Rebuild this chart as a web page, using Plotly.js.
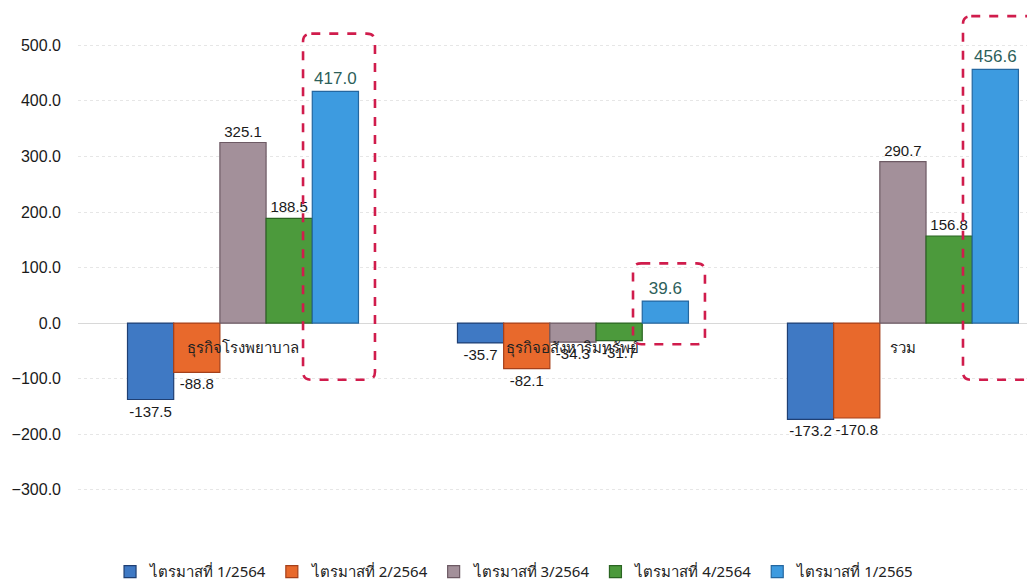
<!DOCTYPE html>
<html><head><meta charset="utf-8">
<script src="https://cdn.plot.ly/plotly-3.0.1.min.js"></script>
<style>html,body{margin:0;padding:0;background:#fff;}#chart{width:1027px;height:580px;}</style>
</head><body><div id="chart"></div>
<script>
const categories = ["ธุรกิจโรงพยาบาล", "ธุรกิจอสังหาริมทรัพย์", "รวม"];
const seriesNames = ["ไตรมาสที่ 1/2564", "ไตรมาสที่ 2/2564", "ไตรมาสที่ 3/2564", "ไตรมาสที่ 4/2564", "ไตรมาสที่ 1/2565"];
const q1_2564 = [-137.5, -35.7, -173.2];
const q2_2564 = [-88.8, -82.1, -170.8];
const q3_2564 = [325.1, -34.3, 290.7];
const q4_2564 = [188.5, -31.7, 156.8];
const q1_2565 = [417.0, 39.6, 456.6];
const yTicks = [-300, -200, -100, 0, 100, 200, 300, 400, 500];

const allSeries = [q1_2564, q2_2564, q3_2564, q4_2564, q1_2565];
const fills = ["#3f79c4", "#e8692c", "#a3909a", "#4c9a3c", "#3d9be0"];
const borders = ["#1f3f73", "#a5401a", "#6d5a64", "#2b6522", "#2467a0"];

const yMin = -340, yMax = 560;
const traces = allSeries.map((vals, i) => ({
  type: "bar",
  name: seriesNames[i],
  x: categories,
  y: vals,
  text: vals.map(v => v.toFixed(1)),
  textposition: "outside",
  cliponaxis: false,
  textfont: i === 4 ? {family: "Liberation Sans, Arial", size: 17, color: "#2d5f5a"} : {family: "Liberation Sans, Arial", size: 15, color: "#1a1a1a"},
  marker: {color: fills[i], line: {color: borders[i], width: 1.2}},
  hoverinfo: "x+y"
}));

// dashed rounded boxes around the last series bars
function roundRect(x0, x1, y0, y1, rx, ry) {
  return `M${x0+rx},${y1} L${x1-rx},${y1} Q${x1},${y1} ${x1},${y1-ry} L${x1},${y0+ry} Q${x1},${y0} ${x1-rx},${y0} L${x0+rx},${y0} Q${x0},${y0} ${x0},${y0+ry} L${x0},${y1-ry} Q${x0},${y1} ${x0+rx},${y1} Z`;
}
const shapes = categories.map((c, i) => {
  const v = q1_2565[i];
  const top = v + (i === 1 ? 68 : (i === 0 ? 104 : 96));
  const bottom = i === 1 ? -38 : -102;
  return {
    type: "path", xref: "x", yref: "y",
    path: roundRect(i + 0.182, i + 0.40, bottom, top, 0.025, 14),
    line: {color: "#d01c4c", width: 2.6, dash: "dash"}
  };
});

const layout = {
  width: 1027, height: 580,
  margin: {l: 78, r: 0, t: 12, b: 68, autoexpand: false},
  paper_bgcolor: "#fff", plot_bgcolor: "#fff",
  barmode: "group", bargap: 0.3, bargroupgap: 0,
  font: {family: "Liberation Sans, Arial, sans-serif", color: "#222"},
  xaxis: {
    type: "category", range: [-0.5, 2.376],
    anchor: "free", position: (0 - yMin) / (yMax - yMin),
    showgrid: false, zeroline: false, showline: false, ticks: "",
    tickfont: {family: "Noto Sans, sans-serif", size: 15, color: "#222"},
    ticklabelstandoff: 14
  },
  yaxis: {
    range: [yMin, yMax], tickvals: yTicks, tickformat: ".1f",
    showgrid: true, gridcolor: "#e6e6e6", griddash: "dot", gridwidth: 1,
    zeroline: true, zerolinecolor: "#d8d8d8", zerolinewidth: 1,
    showline: false, ticks: "",
    tickfont: {family: "Liberation Sans, Arial", size: 16, color: "#1a1a1a"},
    ticklabelstandoff: 16
  },
  legend: {
    orientation: "h", x: 0.46, xanchor: "center",
    yref: "container", y: 0.014, yanchor: "middle",
    font: {family: "Noto Sans, sans-serif", size: 15, color: "#222"},
    itemwidth: 30, tracegroupgap: 0
  },
  shapes: shapes,
  showlegend: true
};
Plotly.newPlot("chart", traces, layout, {displayModeBar: false, staticPlot: true});
</script></body></html>
